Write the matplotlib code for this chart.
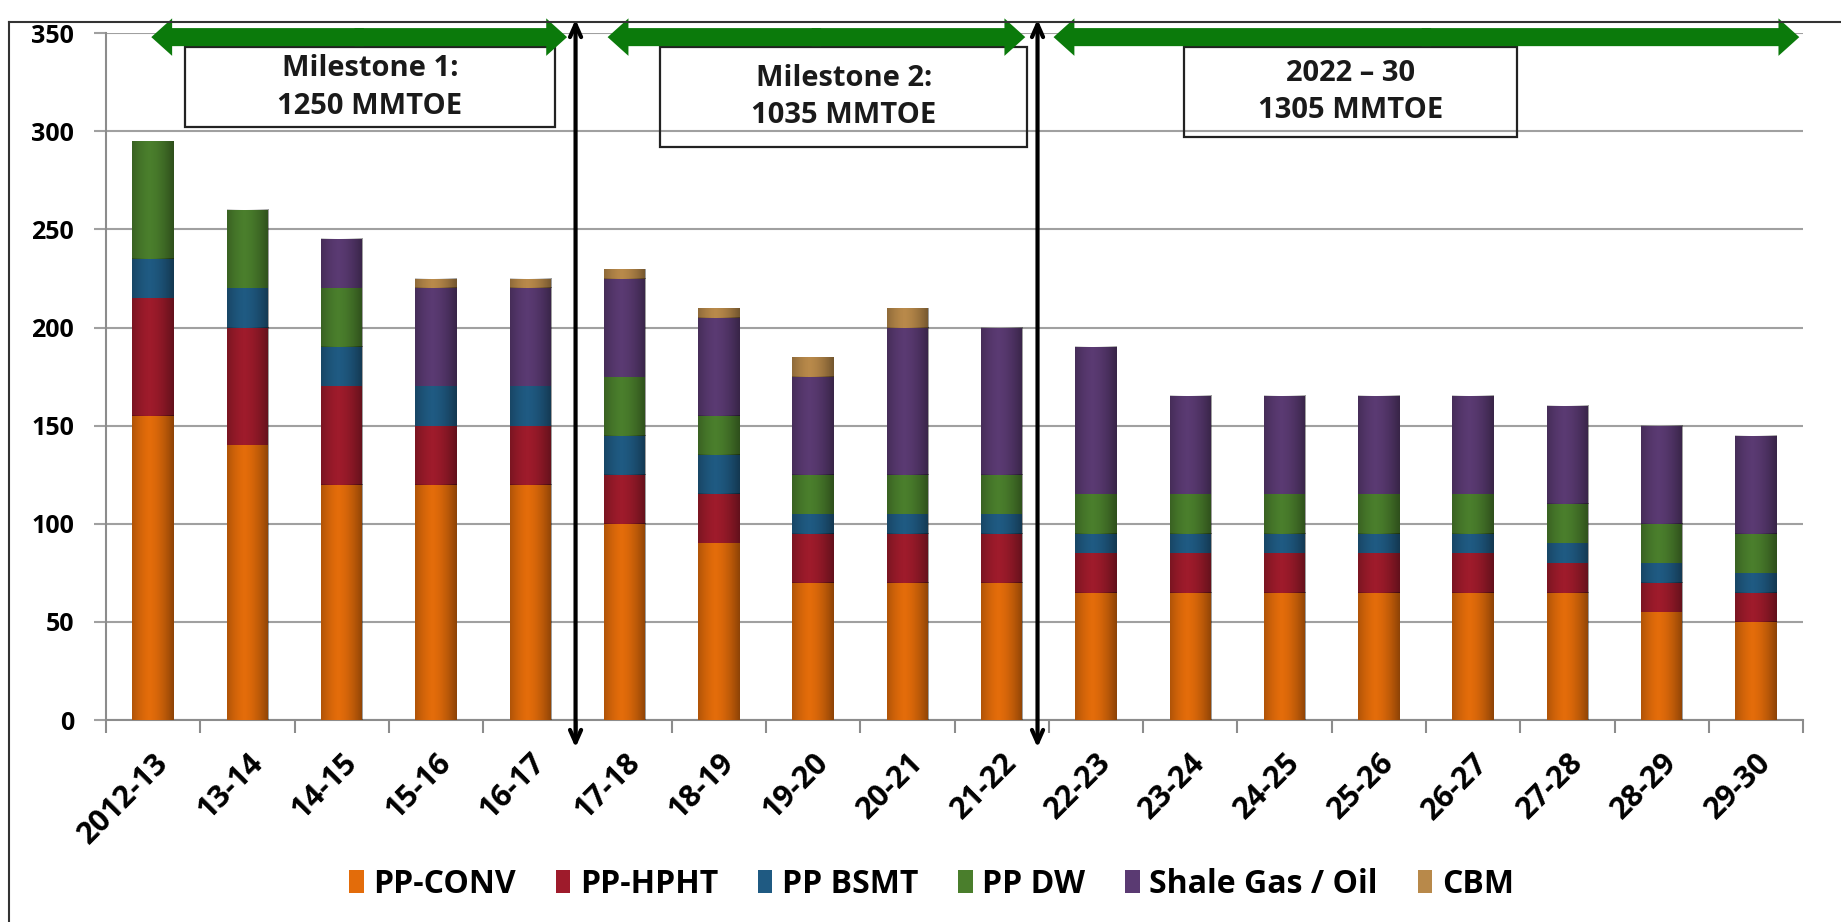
import numpy as np
import matplotlib.pyplot as plt
from matplotlib.patches import FancyArrowPatch, Rectangle
from matplotlib.lines import Line2D

years = ['2012-13', '13-14', '14-15', '15-16', '16-17', '17-18', '18-19', '19-20',
         '20-21', '21-22', '22-23', '23-24', '24-25', '25-26', '26-27', '27-28',
         '28-29', '29-30']

pp_conv = [155, 140, 120, 120, 120, 100, 90, 70, 70, 70, 65, 65, 65, 65, 65, 65, 55, 50]
pp_hpht = [60, 60, 50, 30, 30, 25, 25, 25, 25, 25, 20, 20, 20, 20, 20, 15, 15, 15]
pp_bsmt = [20, 20, 20, 20, 20, 20, 20, 10, 10, 10, 10, 10, 10, 10, 10, 10, 10, 10]
pp_dw = [60, 40, 30, 0, 0, 30, 20, 20, 20, 20, 20, 20, 20, 20, 20, 20, 20, 20]
shale = [0, 0, 25, 50, 50, 50, 50, 50, 75, 75, 75, 50, 50, 50, 50, 50, 50, 50]
cbm = [0, 0, 0, 5, 5, 5, 5, 10, 10, 0, 0, 0, 0, 0, 0, 0, 0, 0]

series = [pp_conv, pp_hpht, pp_bsmt, pp_dw, shale, cbm]
names = ['PP-CONV', 'PP-HPHT', 'PP BSMT', 'PP DW', 'Shale Gas / Oil', 'CBM']
colors = ['#E36C0A', '#9E1B2B', '#1F5A82', '#4A7E2C', '#5A3A72', '#B8894A']

milestones = ['Milestone 1:\n1250 MMTOE', 'Milestone 2:\n1035 MMTOE', '2022 \u2013 30\n1305 MMTOE']

plt.rcParams['font.family'] = ['Open Sans', 'DejaVu Sans']

fig = plt.figure(figsize=(18.41, 9.22), dpi=100)
ax = fig.add_axes([0.0576, 0.219, 0.9218, 0.745])

# darker sides on each bar, like the cylinder shading of the original
t = np.linspace(0, 1, 60)
shade = np.zeros((1, 60, 4))
shade[0, :, 3] = 0.38 * (np.abs(t - 0.42) / 0.58) ** 1.6

x = np.arange(len(years))
bottom = np.zeros(len(years))
for vals, name, c in zip(series, names, colors):
    bars = ax.bar(x, vals, width=0.44, bottom=bottom, color=c, linewidth=0,
                  label=name, zorder=3)
    for b in bars:
        if b.get_height() > 0:
            ax.imshow(shade, extent=[b.get_x(), b.get_x() + b.get_width(),
                                     b.get_y(), b.get_y() + b.get_height()],
                      aspect='auto', zorder=4, interpolation='bilinear')
    bottom += np.array(vals)

ax.set_xlim(-0.5, len(years) - 0.5)
ax.set_ylim(0, 350)
ax.set_yticks(range(0, 351, 50))
ax.yaxis.grid(True, color='#A0A0A0', linewidth=1.5, zorder=0)
ax.set_axisbelow(True)

ax.set_xticks(x)
ax.set_xticklabels(years, rotation=45, ha='right', rotation_mode='anchor',
                   fontsize=22, fontweight='bold')
ax.set_xticks(np.arange(-0.5, len(years), 1), minor=True)
ax.tick_params(axis='x', which='major', length=0, pad=20)
ax.tick_params(axis='x', which='minor', length=9, color='#8C8C8C', width=1.5)
ax.tick_params(axis='y', length=9, color='#A0A0A0', width=1.5, labelsize=18, pad=14)
for lab in ax.get_yticklabels():
    lab.set_fontweight('bold')

for s in ['top', 'right']:
    ax.spines[s].set_visible(False)
for s in ['left', 'bottom']:
    ax.spines[s].set_color('#8C8C8C')
    ax.spines[s].set_linewidth(1.5)


def green_arrow(x0, x1, y):
    mid = (x0 + x1) / 2
    style = 'simple,head_length=15,head_width=27,tail_width=13'
    kw = dict(arrowstyle=style, mutation_scale=1, facecolor='#0B7A0B',
              edgecolor='none', linewidth=0, zorder=6, clip_on=False,
              shrinkA=0, shrinkB=0)
    ax.add_patch(FancyArrowPatch((mid - 0.05, y), (x1, y), **kw))
    ax.add_patch(FancyArrowPatch((mid + 0.05, y), (x0, y), **kw))


green_arrow(-0.02, 4.39, 348)
green_arrow(4.82, 9.25, 348)
green_arrow(9.55, 17.46, 348)

for xv in [4.48, 9.38]:
    ax.annotate('', xy=(xv, -14), xytext=(xv, 357), annotation_clip=False,
                arrowprops=dict(arrowstyle='<->,head_length=0.9,head_width=0.4',
                                color='black', lw=3, shrinkA=0, shrinkB=0),
                zorder=7)

boxes = [(0.34, 4.26, 302, 343), (5.38, 9.27, 292, 343), (10.93, 14.47, 297, 343)]
for (bx0, bx1, by0, by1), txt in zip(boxes, milestones):
    ax.add_patch(Rectangle((bx0, by0), bx1 - bx0, by1 - by0, facecolor='none',
                           edgecolor='#222222', linewidth=1.6, zorder=5, clip_on=False))
    ax.text((bx0 + bx1) / 2, (by0 + by1) / 2, txt, ha='center', va='center',
            fontsize=21, fontweight='bold', color='#1A1A1A', linespacing=1.4,
            zorder=6)

fig.add_artist(Line2D([9 / 1841, 9 / 1841], [0, 1 - 22 / 922], color='#333333', lw=1.5))
fig.add_artist(Line2D([9 / 1841, 1], [1 - 22 / 922, 1 - 22 / 922], color='#333333', lw=1.5))

leg = fig.legend(loc='center', bbox_to_anchor=(0.506, 0.041), ncol=6, frameon=False,
                 handlelength=0.45, handleheight=0.75, handletextpad=0.3,
                 columnspacing=1.25, prop={'size': 23, 'weight': 'bold'})

fig.savefig('out.png', dpi=100)
